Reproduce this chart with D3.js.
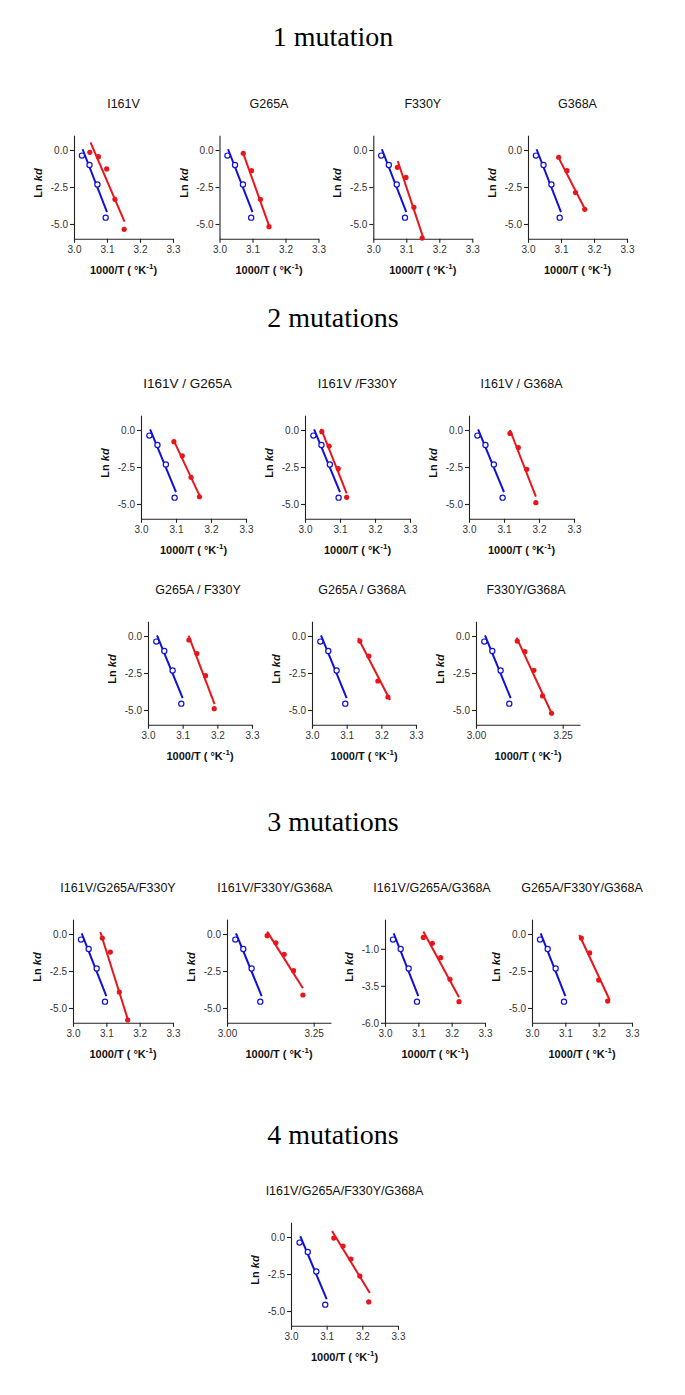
<!DOCTYPE html>
<html><head><meta charset="utf-8">
<script src="https://cdn.jsdelivr.net/npm/d3@7"></script>
<style>body{margin:0;background:#fff}</style>
</head><body>
<svg id="c" width="685" height="1395"></svg>
<script>
// ---------- data ----------
const sectionTitles = ["1 mutation", "2 mutations", "3 mutations", "4 mutations"];
const panelTitles = ["I161V", "G265A", "F330Y", "G368A",
  "I161V / G265A", "I161V /F330Y", "I161V / G368A",
  "G265A / F330Y", "G265A / G368A", "F330Y/G368A",
  "I161V/G265A/F330Y", "I161V/F330Y/G368A", "I161V/G265A/G368A", "G265A/F330Y/G368A",
  "I161V/G265A/F330Y/G368A"];
// wild-type reference (blue, open circles)
const blueX = [3.024, 3.047, 3.071, 3.096];
const blueY = [-0.38, -1.01, -2.33, -4.57];
const blueFitX = [3.026, 3.100];
const blueFitY = [0.05, -4.20];
// mutants (red, filled circles)
const redX = [
  [3.048, 3.074, 3.099, 3.124, 3.152],
  [3.072, 3.097, 3.124, 3.150],
  [3.073, 3.099, 3.123, 3.148],
  [3.093, 3.118, 3.144, 3.172],
  [3.094, 3.118, 3.143, 3.167],
  [3.048, 3.069, 3.095, 3.119],
  [3.117, 3.141, 3.165, 3.191],
  [3.118, 3.141, 3.166, 3.191],
  [3.138, 3.164, 3.190, 3.219],
  [3.119, 3.141, 3.167, 3.192, 3.218],
  [3.088, 3.112, 3.139, 3.164],
  [3.116, 3.141, 3.165, 3.192, 3.219],
  [3.115, 3.142, 3.167, 3.195, 3.222],
  [3.148, 3.173, 3.200, 3.227],
  [3.120, 3.146, 3.168, 3.193, 3.218]
];
const redY = [
  [-0.16, -0.45, -1.28, -3.33, -5.36],
  [-0.22, -1.40, -3.33, -5.18],
  [-1.17, -1.85, -3.87, -5.95],
  [-0.49, -1.40, -2.88, -4.01],
  [-0.79, -1.74, -3.20, -4.51],
  [-0.11, -1.08, -2.61, -4.55],
  [-0.23, -1.19, -2.66, -4.91],
  [-0.27, -1.19, -2.68, -4.91],
  [-0.34, -1.35, -3.04, -4.12],
  [-0.34, -1.06, -2.32, -4.05, -5.22],
  [-0.27, -1.22, -3.92, -5.81],
  [-0.11, -0.59, -1.37, -2.48, -4.12],
  [-0.23, -0.63, -1.60, -3.06, -4.57],
  [-0.27, -1.28, -3.11, -4.53],
  [-0.07, -0.61, -1.49, -2.64, -4.39]
];
const redFitX = [
  [3.050, 3.153], [3.070, 3.153], [3.074, 3.152], [3.091, 3.174],
  [3.093, 3.170], [3.046, 3.119], [3.117, 3.191],
  [3.117, 3.192], [3.133, 3.225], [3.117, 3.219],
  [3.082, 3.167], [3.116, 3.219], [3.115, 3.222], [3.142, 3.233],
  [3.115, 3.221]
];
const redFitY = [
  [0.52, -4.84], [-0.11, -5.29], [-0.74, -5.97], [-0.45, -4.05],
  [-0.68, -4.57], [0.07, -4.28], [0.00, -4.50],
  [0.02, -4.60], [-0.14, -4.32], [-0.11, -5.27],
  [0.14, -5.95], [0.16, -3.67], [0.17, -4.28], [-0.07, -4.46],
  [0.40, -3.78]
];
const xDomain = [3.0, 3.3];
const yDomain = [-6, 1];
const xTicksFine = [3.0, 3.1, 3.2, 3.3];
const xTicksCoarse = [3.00, 3.25];
const yTicksMain = [0, -2.5, -5];
const yTicksShift = [-1, -3.5, -6];

// ---------- layout ----------
const YPX = 14.8; // px per y unit
const layout = [
  {x0: 74, w: 99, y0: 150}, {x0: 219.5, w: 99, y0: 150}, {x0: 373.3, w: 99, y0: 150}, {x0: 528, w: 99, y0: 150},
  {x0: 141, w: 105, y0: 430, tdx: -6, tfs: 13.5}, {x0: 305, w: 105, y0: 430, tfs: 13}, {x0: 469, w: 105, y0: 430},
  {x0: 148, w: 104, y0: 636, tdx: -2}, {x0: 312, w: 104, y0: 636, tdx: -2}, {x0: 476, w: 104, y0: 636, coarse: true, tdx: -2},
  {x0: 73, w: 100, y0: 934, tdx: -5}, {x0: 227, w: 104, y0: 934, coarse: true, tdx: -4}, {x0: 385, w: 100, y0: 934, shiftY: true, tdx: -3}, {x0: 532, w: 100, y0: 934},
  {x0: 291, w: 107, y0: 1237}
];
const sectionY = [46, 327, 831, 1144];

const svg = d3.select("#c");
const SANS = "'Liberation Sans', Arial, sans-serif";
const fmt = f => v => d3.format(f)(v).replace("\u2212", "-");

svg.selectAll("text.sec").data(sectionTitles).join("text")
  .attr("class", "sec")
  .attr("x", 333).attr("y", (d, i) => sectionY[i])
  .attr("text-anchor", "middle")
  .attr("font-family", "'Liberation Serif', 'Times New Roman', serif")
  .attr("font-size", 28).attr("fill", "#000")
  .text(d => d);

layout.forEach((L, i) => {
  const x = d3.scaleLinear().domain(xDomain).range([L.x0, L.x0 + L.w]);
  const y = d3.scaleLinear().domain(yDomain).range([L.y0 + 6 * YPX, L.y0 - YPX]);
  const g = svg.append("g");
  const yBottom = y(yDomain[0]);

  const xa = g.append("g").attr("transform", `translate(0,${yBottom})`)
    .call(d3.axisBottom(x).tickValues(L.coarse ? xTicksCoarse : xTicksFine)
      .tickFormat(fmt(L.coarse ? ".2f" : ".1f")).tickSize(4).tickSizeOuter(0).tickPadding(3));
  const ya = g.append("g").attr("transform", `translate(${L.x0},0)`)
    .call(d3.axisLeft(y).tickValues(L.shiftY ? yTicksShift : yTicksMain)
      .tickFormat(fmt(".1f")).tickSize(4).tickSizeOuter(0).tickPadding(2));
  [xa, ya].forEach(a => {
    a.selectAll("path,line").attr("stroke", "#222").attr("stroke-width", 1.1);
    a.selectAll("text").attr("font-family", SANS).attr("font-size", 10).attr("fill", "#333");
  });

  // title
  g.append("text").attr("x", L.x0 + L.w / 2 + (L.tdx || 0)).attr("y", L.y0 - 42)
    .attr("text-anchor", "middle").attr("font-family", SANS).attr("font-size", L.tfs || 12.5)
    .attr("fill", "#111").text(panelTitles[i]);

  // y label
  const yl = g.append("text")
    .attr("transform", `translate(${L.x0 - 36},${(y(1) + yBottom) / 2 - 4}) rotate(-90)`)
    .attr("text-anchor", "middle").attr("dominant-baseline", "central")
    .attr("font-family", SANS).attr("font-size", 11).attr("font-weight", "bold").attr("fill", "#111");
  yl.append("tspan").text("Ln ");
  yl.append("tspan").attr("font-style", "italic").text("kd");

  // x label
  const xl = g.append("text").attr("x", L.x0 + L.w / 2).attr("y", yBottom + 35)
    .attr("text-anchor", "middle").attr("font-family", SANS).attr("font-size", 11)
    .attr("font-weight", "bold").attr("fill", "#111");
  xl.append("tspan").text("1000/T ( \u00B0K");
  xl.append("tspan").attr("font-size", 8).attr("dy", -5).text("-1");
  xl.append("tspan").attr("dy", 5).text(")");

  const line = d3.line().x(d => x(d[0])).y(d => y(d[1]));
  // blue fit + points
  g.append("path").datum(d3.zip(blueFitX, blueFitY)).attr("d", line)
    .attr("stroke", "#1010d8").attr("stroke-width", 2).attr("fill", "none");
  g.selectAll("circle.b").data(d3.zip(blueX, blueY)).join("circle").attr("class", "b")
    .attr("cx", d => x(d[0])).attr("cy", d => y(d[1])).attr("r", 2.6)
    .attr("fill", "#fff").attr("stroke", "#1010d8").attr("stroke-width", 1.2);
  // red fit + points
  g.append("path").datum(d3.zip(redFitX[i], redFitY[i])).attr("d", line)
    .attr("stroke", "#e8161c").attr("stroke-width", 2).attr("fill", "none");
  g.selectAll("circle.r").data(d3.zip(redX[i], redY[i])).join("circle").attr("class", "r")
    .attr("cx", d => x(d[0])).attr("cy", d => y(d[1])).attr("r", 2.6)
    .attr("fill", "#e8161c");
});
</script>
</body></html>
